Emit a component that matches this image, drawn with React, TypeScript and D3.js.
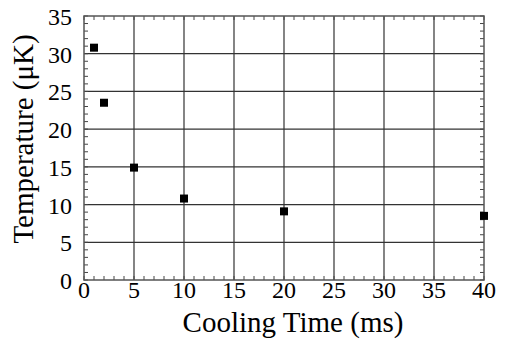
import React from 'react';
import * as d3 from 'd3';

// cooling time (ms) vs temperature (uK)
const coolingTimes = [1, 2, 5, 10, 20, 40];
const temperatures = [30.8, 23.5, 14.9, 10.8, 9.1, 8.5];

const xTicks = [0, 5, 10, 15, 20, 25, 30, 35, 40];
const yTicks = [0, 5, 10, 15, 20, 25, 30, 35];
const xMinor = d3.range(0, 41, 1);
const yMinor = d3.range(0, 36, 1);

const W = 505;
const H = 341;
const margin = { top: 16, right: 21, bottom: 61, left: 84 };
const font = '"Liberation Serif", "Times New Roman", serif';

export default function App() {
  const iw = W - margin.left - margin.right;
  const ih = H - margin.top - margin.bottom;

  const x = d3.scaleLinear().domain([0, 40]).range([0, iw]);
  const y = d3.scaleLinear().domain([0, 35]).range([ih, 0]);

  const tickLen = 4;

  return (
    <svg width={W} height={H} style={{ position: 'absolute', left: 0, top: 0, background: '#fff' }}>
      <g transform={`translate(${margin.left},${margin.top})`}>
        {/* grid */}
        {xTicks.slice(1, -1).map(t => (
          <line key={'gx' + t} x1={x(t)} x2={x(t)} y1={0} y2={ih} stroke="#333" strokeWidth={1.2} />
        ))}
        {yTicks.slice(1, -1).map(t => (
          <line key={'gy' + t} x1={0} x2={iw} y1={y(t)} y2={y(t)} stroke="#333" strokeWidth={1.2} />
        ))}

        {/* minor ticks, pointing inward on all four sides */}
        {xMinor.map(t => (
          <g key={'tx' + t}>
            <line x1={x(t)} x2={x(t)} y1={ih} y2={ih - tickLen} stroke="#444" strokeWidth={1} />
            <line x1={x(t)} x2={x(t)} y1={0} y2={tickLen} stroke="#444" strokeWidth={1} />
          </g>
        ))}
        {yMinor.map(t => (
          <g key={'ty' + t}>
            <line x1={0} x2={tickLen} y1={y(t)} y2={y(t)} stroke="#444" strokeWidth={1} />
            <line x1={iw} x2={iw - tickLen} y1={y(t)} y2={y(t)} stroke="#444" strokeWidth={1} />
          </g>
        ))}

        {/* frame */}
        <rect x={0} y={0} width={iw} height={ih} fill="none" stroke="#555" strokeWidth={1.5} />

        {/* data */}
        {coolingTimes.map((t, i) => (
          <rect key={'p' + i} x={x(t) - 4} y={y(temperatures[i]) - 4} width={8} height={8} fill="#000" />
        ))}

        {/* tick labels */}
        {xTicks.map(t => (
          <text key={'lx' + t} x={x(t)} y={ih + 18} textAnchor="middle" fontFamily={font} fontSize={24} fill="#000">
            {t}
          </text>
        ))}
        {yTicks.map(t => (
          <text key={'ly' + t} x={-12} y={y(t) + 9} textAnchor="end" fontFamily={font} fontSize={24} fill="#000">
            {t}
          </text>
        ))}

        {/* axis titles */}
        <text x={iw / 2 + 9} y={ih + 52} textAnchor="middle" fontFamily={font} fontSize={29} fill="#000">
          Cooling Time (ms)
        </text>
        <text
          transform={`translate(${33 - margin.left},${139 - margin.top}) rotate(-90)`}
          textAnchor="middle"
          fontFamily={font}
          fontSize={29}
          fill="#000"
        >
          Temperature (μK)
        </text>
      </g>
    </svg>
  );
}
